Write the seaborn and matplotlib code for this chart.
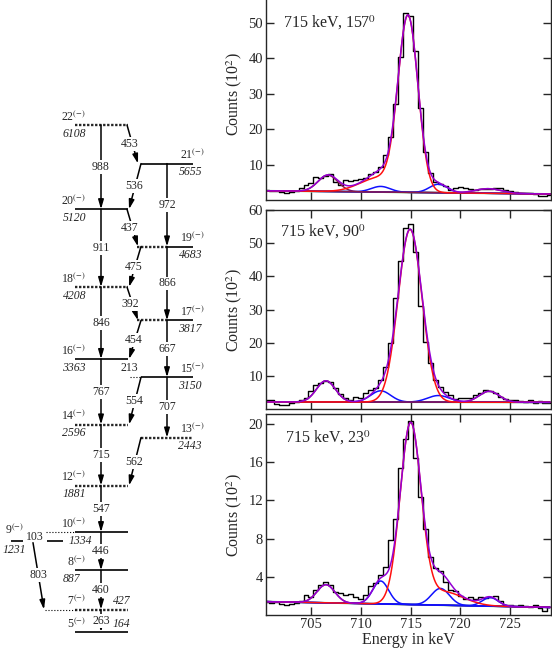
import numpy as np
import seaborn as sns
import matplotlib.pyplot as plt

# ---------------- level scheme ----------------
level_spin = ['22', '21', '20', '19', '18', '17', '16', '15', '14', '13', '12', '10', '9', '8', '7', '5']
level_energy = [6108, 5655, 5120, 4683, 4208, 3817, 3363, 3150, 2596, 2443, 1881, 1334, 1231, 887, 427, 164]
level_band = ['A', 'B', 'A', 'B', 'A', 'B', 'A', 'B', 'A', 'B', 'A', 'A', 'C', 'A', 'A', 'A']

gamma_energy = [988, 911, 846, 767, 715, 547, 446, 460, 263,
                972, 866, 667, 707,
                453, 536, 437, 475, 392, 454, 213, 554, 562, 803, 103]
gamma_from = ['22', '20', '18', '16', '14', '12', '10', '8', '7',
              '21', '19', '17', '15',
              '22', '21', '20', '19', '18', '17', '16', '15', '13', '9', '10']
gamma_to = ['20', '18', '16', '14', '12', '10', '8', '7', '5',
            '19', '17', '15', '13',
            '21', '20', '19', '18', '17', '16', '15', '14', '12', '7', '9']

# ---------------- spectra (0.5 keV bins, counts in 10^2) ----------------
bin_energy = np.arange(700.5, 729.01, 0.5)
counts_157 = [2.8, 2.6, 2.6, 2.2, 2.1, 2.2, 2.4, 3.3, 4.2, 4.9,
              6.6, 6.1, 6.8, 7.3, 5.2, 4.2, 5.6, 5.5, 5.6, 5.9,
              6.3, 7.3, 8.0, 9.4, 12.7, 17.7, 27.0, 40.5, 52.7, 52.0,
              42.0, 26.0, 13.6, 7.5, 5.2, 4.4, 4.0, 2.8, 3.3, 3.8,
              3.3, 3.0, 2.8, 3.0, 3.1, 3.0, 3.3, 3.5, 2.8, 2.4,
              2.2, 2.1, 1.9, 1.9, 1.6, 1.1, 1.1, 1.4]
counts_90 = [2.9, 2.7, 1.5, 1.3, 1.4, 2.0, 2.2, 2.8, 3.3, 5.5,
             7.3, 7.8, 8.5, 8.1, 6.5, 4.5, 3.3, 2.8, 3.8, 3.3,
             5.0, 5.8, 6.5, 8.8, 12.8, 20.0, 33.4, 44.5, 54.5, 55.8,
             47.5, 31.0, 20.4, 14.0, 8.8, 6.8, 5.3, 4.3, 3.0, 3.5,
             3.3, 3.5, 4.3, 5.0, 5.8, 5.5, 5.0, 3.8, 3.0, 2.8,
             2.7, 2.5, 2.2, 2.8, 2.0, 2.4, 1.8, 2.0]
counts_23 = [1.4, 1.3, 1.4, 1.2, 1.1, 1.2, 1.3, 1.5, 2.1, 1.9,
             2.6, 3.1, 3.5, 3.1, 2.4, 2.3, 2.1, 2.2, 1.9, 1.7,
             2.1, 3.0, 3.3, 4.2, 5.0, 7.9, 10.0, 15.4, 18.4, 20.3,
             16.4, 12.3, 9.0, 6.1, 4.9, 4.6, 3.5, 2.6, 2.5, 2.0,
             1.7, 1.9, 1.7, 1.9, 1.8, 1.9, 2.0, 1.5, 1.0, 1.0,
             0.9, 1.0, 0.9, 0.8, 1.0, 0.7, 0.4, 0.8]

# fit components: centroid, height above background, sigma
pos_157 = [706.7, 712.0, 714.75, 717.8, 722.8]
height_157 = [4.6, 1.6, 48.9, 2.4, 1.3]
sigma_157 = [1.0, 0.95, 1.0, 0.9, 1.3]
tail_157 = [711.8, 4.0, 1.9]      # low energy tail on the 715 line
bg_157 = [2.6, 1.7]               # background at 700.5 and 729 keV

pos_90 = [706.5, 712.0, 714.95, 717.8, 722.9]
height_90 = [6.4, 3.4, 52.0, 2.0, 3.3]
sigma_90 = [0.95, 1.0, 1.2, 1.1, 1.0]
tail_90 = [715.0, 0.0, 1.0]
bg_90 = [2.2, 2.1]

pos_23 = [706.5, 712.0, 715.0, 718.0, 723.0]
height_23 = [1.9, 2.4, 18.7, 1.75, 0.9]
sigma_23 = [0.9, 0.8, 1.05, 0.9, 0.8]
tail_23 = [718.3, 1.4, 2.0]
bg_23 = [1.4, 0.8]

RED, BLUE, GREEN = '#ff1010', '#1010ff', '#3cb043'
PURPLE, MAROON = '#9400d3', '#8b1a4a'

sns.set_style('ticks')
plt.rcParams['font.family'] = ['Liberation Serif', 'DejaVu Serif']
plt.rcParams['mathtext.fontset'] = 'stix'

fig = plt.figure(figsize=(5.52, 6.54), dpi=100)

# ================= level scheme =================
axl = fig.add_axes([0, 0, 230 / 552, 1])
axl.set_xlim(0, 230)
axl.set_ylim(-94, 7573)
axl.axis('off')

col_x = {'A': (75, 128), 'B': (141, 193)}
col_mid = {'A': 101, 'B': 167}
dotted = ['22', '18', '14', '13', '12', '7']
half_dotted = ['19', '17']
heavy_dot = (0, (1.0, 0.7))
fs = 8.5

lev = dict(zip(level_spin, level_energy))
band = dict(zip(level_spin, level_band))

for s, e, b in zip(level_spin, level_energy, level_band):
    spin_txt = s + r'$^{(-)}$'
    if b == 'C':
        axl.hlines(e, 11, 23, color='black', lw=1.2)
        axl.hlines(e, 47, 63, color='black', lw=1.2)
        axl.annotate(spin_txt, (5, e), xytext=(0, 3), textcoords='offset points',
                     ha='left', va='bottom', fontsize=fs)
        axl.annotate(str(e), (3, e), xytext=(0, -2), textcoords='offset points',
                     ha='left', va='top', fontsize=fs, style='italic')
        continue
    x0, x1 = col_x[b]
    if s in dotted:
        axl.hlines(e, x0, x1, color='0.15', lw=1.7, linestyle=heavy_dot)
    elif s in half_dotted:
        xm = col_mid[b]
        axl.hlines(e, x0 - 4, xm, color='0.15', lw=1.7, linestyle=heavy_dot)
        axl.hlines(e, xm, x1, color='black', lw=1.2)
    else:
        axl.hlines(e, x0, x1, color='black', lw=1.2)

    if b == 'B':
        axl.annotate(spin_txt, (205, e), xytext=(0, 1), textcoords='offset points',
                     ha='right', va='bottom', fontsize=fs)
        axl.annotate(str(e), (202, e), xytext=(0, -2), textcoords='offset points',
                     ha='right', va='top', fontsize=fs, style='italic')
    else:
        axl.annotate(spin_txt, (86, e), xytext=(0, 1), textcoords='offset points',
                     ha='right', va='bottom', fontsize=fs)
        if s in ('7', '5'):
            axl.annotate(str(e), (113, e), xytext=(0, 1.5), textcoords='offset points',
                         ha='left', va='bottom', fontsize=fs, style='italic')
        else:
            ex = {'10': 92, '8': 80}.get(s, 86)
            axl.annotate(str(e), (ex, e), xytext=(0, -2), textcoords='offset points',
                         ha='right', va='top', fontsize=fs, style='italic')

# thin dotted connections
axl.hlines(lev['10'], 46, 75, color='black', lw=0.8, linestyle=':')
axl.hlines(lev['7'], 45, 75, color='black', lw=0.8, linestyle=':')
axl.hlines(lev['15'], 130, 141, color='black', lw=0.8, linestyle=':')

arrow_kw = dict(arrowstyle='-|>,head_length=0.55,head_width=0.16', lw=1.1,
                color='black', shrinkA=0, shrinkB=0, mutation_scale=10)
box = dict(boxstyle='square,pad=0.08', fc='white', ec='none')

for eg, a, b in zip(gamma_energy, gamma_from, gamma_to):
    ea, eb = lev[a], lev[b]
    ym = (ea + eb) / 2
    ba, bb = band[a], band[b]
    draw = True
    if bb == 'C':            # 10 -> 9, label only
        lx, draw = 35, False
    elif ba == 'C':          # 9 -> 7
        x0, x1, lx = 33, 44, 38
        ea = ea - 20
    elif eg == 213:
        lx, draw = 129, False
    elif ba == bb:
        x0 = x1 = lx = col_mid[ba]
    elif ba == 'A':
        x0, x1, lx = 127, 138, 130
    else:
        x0, x1, lx = 141, 129, 134
    if draw:
        axl.annotate('', xy=(x1, eb), xytext=(x0, ea), arrowprops=arrow_kw)
    axl.text(lx, ym, str(eg), ha='center', va='center', fontsize=fs,
             bbox=box if draw else None, zorder=5)

# ================= spectra =================
def gauss(x, c, h, s):
    return h * np.exp(-0.5 * ((x - c) / s) ** 2)


def draw_spectrum(ax, counts, pos, height, sigma, tail, bg, comp_colors):
    x = np.linspace(700.5, 729.0, 700)
    back = np.interp(x, [700.5, 729.0], bg)
    comps = [gauss(x, c, h, s) for c, h, s in zip(pos, height, sigma)]
    tail_c = gauss(x, *tail)
    sns.lineplot(x=bin_energy, y=counts, ax=ax, color='black', lw=1.0,
                 drawstyle='steps-mid', estimator=None)
    sns.lineplot(x=x, y=back, ax=ax, color=GREEN, lw=1.3, estimator=None)
    for i in (0, 1, 3, 4):
        sns.lineplot(x=x, y=back + comps[i], ax=ax, color=comp_colors[i], lw=1.1, estimator=None)
    sns.lineplot(x=x, y=back + comps[2] + tail_c, ax=ax, color=RED, lw=1.1, estimator=None)
    sns.lineplot(x=x, y=back + sum(comps) + tail_c, ax=ax, color=PURPLE, lw=1.1, estimator=None)


panels = [
    ([0.4813, 0.6942, 0.5168, 0.3248], counts_157, pos_157, height_157, sigma_157, tail_157, bg_157,
     [MAROON, BLUE, RED, BLUE, MAROON], (0, 60), [10, 20, 30, 40, 50], '715 keV, 157$^0$', (0.06, 0.833)),
    ([0.4813, 0.3742, 0.5168, 0.3047], counts_90, pos_90, height_90, sigma_90, tail_90, bg_90,
     [MAROON, BLUE, RED, BLUE, MAROON], (0, 60), [10, 20, 30, 40, 50, 60], '715 keV, 90$^0$', (0.05, 0.891)),
    ([0.4813, 0.0596, 0.5168, 0.3069], counts_23, pos_23, height_23, sigma_23, tail_23, bg_23,
     [MAROON, BLUE, RED, BLUE, BLUE], (0, 21), [4, 8, 12, 16, 20], '715 keV, 23$^0$', (0.068, 0.882)),
]

for k, (rect, counts, pos, height, sigma, tail, bg, cc, ylim, yt, title, tpos) in enumerate(panels):
    ax = fig.add_axes(rect)
    draw_spectrum(ax, counts, pos, height, sigma, tail, bg, cc)
    ax.set_xlim(700.45, 729.1)
    ax.set_ylim(*ylim)
    ax.set_yticks(yt)
    ax.set_xticks([705, 710, 715, 720, 725])
    ax.tick_params(direction='in', length=6, width=1.0, top=True, right=True,
                   labelsize=10.5, pad=2, labelbottom=(k == 2))
    for sp in ax.spines.values():
        sp.set_linewidth(1.0)
    ax.set_ylabel('Counts (10$^2$)', fontsize=11.5, labelpad=3)
    ax.set_xlabel('Energy in keV' if k == 2 else '', fontsize=11.5, labelpad=1)
    ax.text(tpos[0], tpos[1], title, transform=ax.transAxes, fontsize=11.5, va='center')

fig.savefig('out.png', dpi=100)
